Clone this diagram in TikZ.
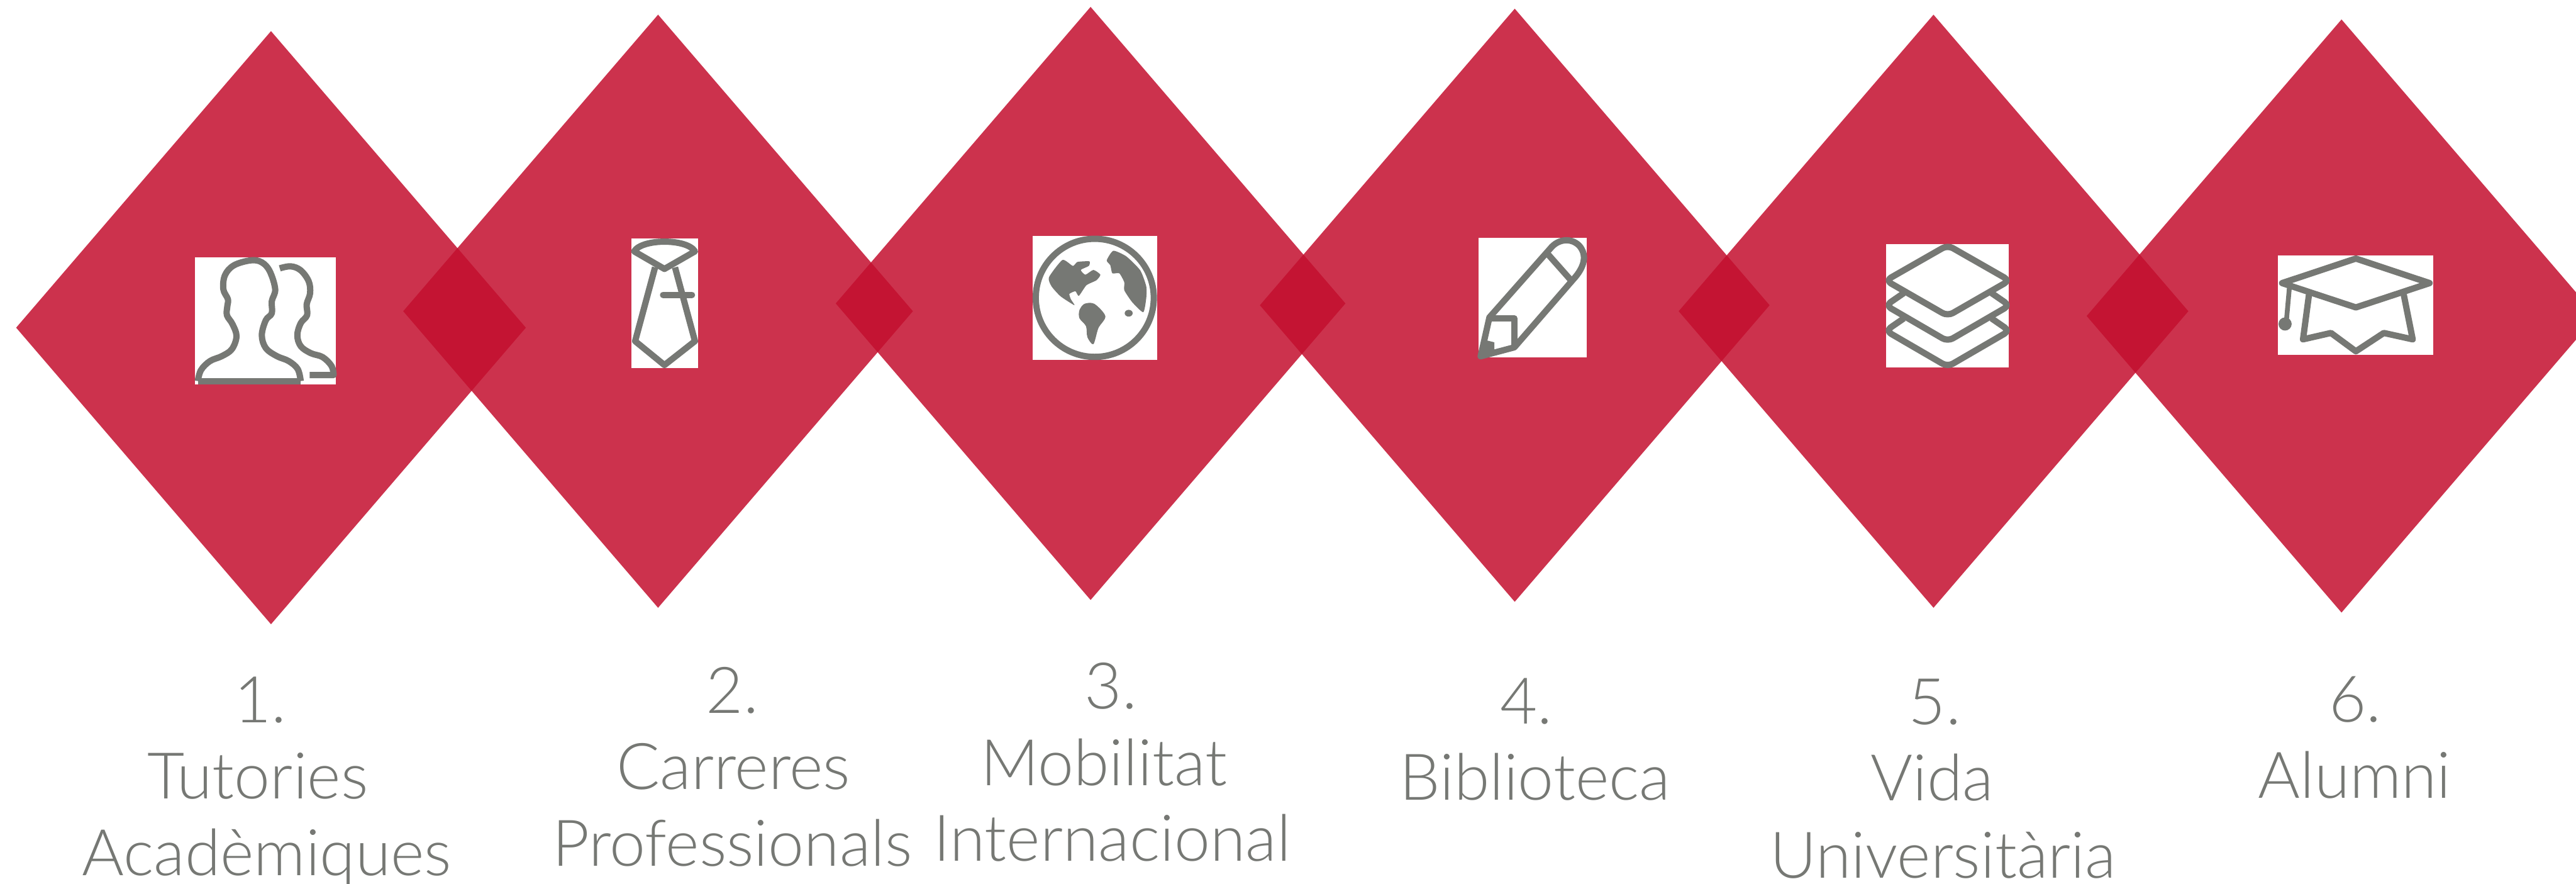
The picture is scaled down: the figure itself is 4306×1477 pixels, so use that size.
\documentclass[tikz,border=0pt]{standalone}
\usepackage{fontspec}
\setmainfont{Lato Light}
\usetikzlibrary{shapes.geometric}
\definecolor{rhombred}{RGB}{195,14,46}
\definecolor{icongray}{RGB}{118,120,116}
\tikzset{
  rhomb/.style={diamond,fill=rhombred,fill opacity=0.85,inner sep=0pt,outer sep=0pt,minimum width=852pt,minimum height=991pt},
  iconbox/.style={rectangle,fill=white,inner sep=0pt,outer sep=0pt},
  icon/.style={draw=icongray,line width=10.5pt,line join=round},
  caption/.style={anchor=base,inner sep=0pt,text=icongray,font=\fontsize{107.5}{128}\selectfont}
}

\begin{document}
\begin{tikzpicture}[x=1pt,y=-1pt]
\useasboundingbox (0,0) rectangle (4306,1477);

\foreach \name/\x/\y in {tutories/453/547.5,carreres/1100/520,mobilitat/1823/507,biblioteca/2532/510,vida/3232/520,alumni/3914/528}
  \node (\name) [rhomb] at (\x,\y) {};

\node (boxtutories) [iconbox,minimum width=235pt,minimum height=212pt] at (443.5,536) {};
\node (boxcarreres) [iconbox,minimum width=112pt,minimum height=217pt] at (1111,506.5) {};
\node (boxmobilitat) [iconbox,minimum width=208pt,minimum height=207pt] at (1830,497.5) {};
\node (boxbiblioteca) [iconbox,minimum width=180pt,minimum height=200pt] at (2562,497) {};
\node (boxvida) [iconbox,minimum width=205pt,minimum height=206pt] at (3255.5,511) {};
\node (boxalumni) [iconbox,minimum width=259pt,minimum height=166pt] at (3937.5,510) {};

% people
\begin{scope}[shift={(316,420)},scale=1/3]
\draw[icon] plot[smooth,tension=0.6] coordinates {(44,650) (60,595) (105,550) (165,525) (215,490) (238,425) (218,365) (190,320) (192,275) (195,240) (172,190) (180,120) (225,70) (310,45) (365,55) (405,100) (432,190) (415,250) (415,310) (385,345) (365,420) (385,485) (440,525) (500,550) (545,590) (560,650)};
\draw[icon] (44,652) -- (560,652);
\draw[icon] plot[smooth,tension=0.6] coordinates {(455,85) (510,75) (560,95) (600,150) (607,210) (590,265) (592,320) (560,360) (543,420) (560,475) (610,510) (670,530) (715,575) (725,620)} -- (605,620);
\end{scope}

% tie
\begin{scope}[shift={(1040,390)},scale=1/3]
\draw[icon] (60,90) .. controls (100,25) and (325,25) .. (365,90) -- (212,178) -- cycle;
\draw[icon] (165,170) -- (65,540) -- (212,660) -- (365,540) -- (265,170);
\draw[icon,line cap=round] (205,308) -- (350,308);
\end{scope}

% globe
\begin{scope}[shift={(1716,385)},scale=1/3]
\draw[icon] (342,338) circle (296);
\fill[icongray] plot[smooth cycle,tension=0.35] coordinates {(180,148) (232,178) (255,158) (315,155) (312,178) (272,198) (295,222) (335,198) (370,222) (350,250) (300,275) (262,328) (245,305) (215,318) (222,345) (240,375) (170,330) (125,280) (112,235)};
\fill[icongray] plot[smooth cycle,tension=0.5] coordinates {(265,400) (290,368) (340,368) (395,430) (360,490) (335,570) (305,535) (298,480) (265,440)};
\fill[icongray] plot[smooth cycle,tension=0.35] coordinates {(435,102) (500,130) (570,200) (600,280) (600,340) (585,410) (530,360) (490,300) (490,260) (465,215) (430,215) (420,175) (402,150)};
\fill[icongray] (512,415) ellipse (20 and 17);
\end{scope}

% pencil
\begin{scope}[shift={(2463,387)},scale=1/3]
\draw[icon] (80,430) -- (385,85) .. controls (425,35) and (490,30) .. (530,70) .. controls (570,115) and (560,175) .. (500,240) -- (205,580) -- (36,625) -- cycle;
\draw[icon] (375,115) -- (490,245);
\draw[icon] (80,435) -- (205,435) -- (205,580);
\fill[icongray] (30,632) -- (65,545) -- (105,555) -- (105,595) -- cycle;
\end{scope}

% layers
\begin{scope}[shift={(3144,398)},scale=1/3]
\draw[icon,rounded corners=10pt] (335,35) -- (645,212) -- (335,390) -- (25,212) -- cycle;
\draw[icon,rounded corners=10pt] (115,275) -- (25,337) -- (335,517) -- (645,337) -- (555,275);
\draw[icon,rounded corners=10pt] (115,402) -- (25,464) -- (335,644) -- (645,464) -- (555,402);
\end{scope}

% cap
\begin{scope}[shift={(3798,417)},scale=1/3]
\draw[icon] (420,45) -- (790,168) -- (420,290) -- (50,168) -- cycle;
\draw[icon,line width=8pt] (88,175) -- (70,375);
\fill[icongray] (65,373) circle (33);
\draw[icon] (185,225) -- (155,450) -- (295,418) -- (420,510) -- (560,418) -- (705,450) -- (660,225);
\end{scope}

\foreach \name/\x/\y/\txt in {
  numa/435/1207/1.,lina/431/1335/Tutories,linb/446/1463/Acadèmiques,
  numb/1224/1192/2.,linc/1226/1319/Carreres,lind/1224/1447/Professionals,
  numc/1857/1184/3.,line/1845/1312/Mobilitat,linf/1859/1439/Internacional,
  numd/2551/1209/4.,ling/2566/1337/Biblioteca,
  nume/3234/1210/5.,linh/3230/1338/Vida,lini/3248/1467/Universitària,
  numf/3937/1206/6.,linj/3936/1334/Alumni}
  \node (\name) [caption] at (\x,\y) {\txt};
\end{tikzpicture}
\end{document}
